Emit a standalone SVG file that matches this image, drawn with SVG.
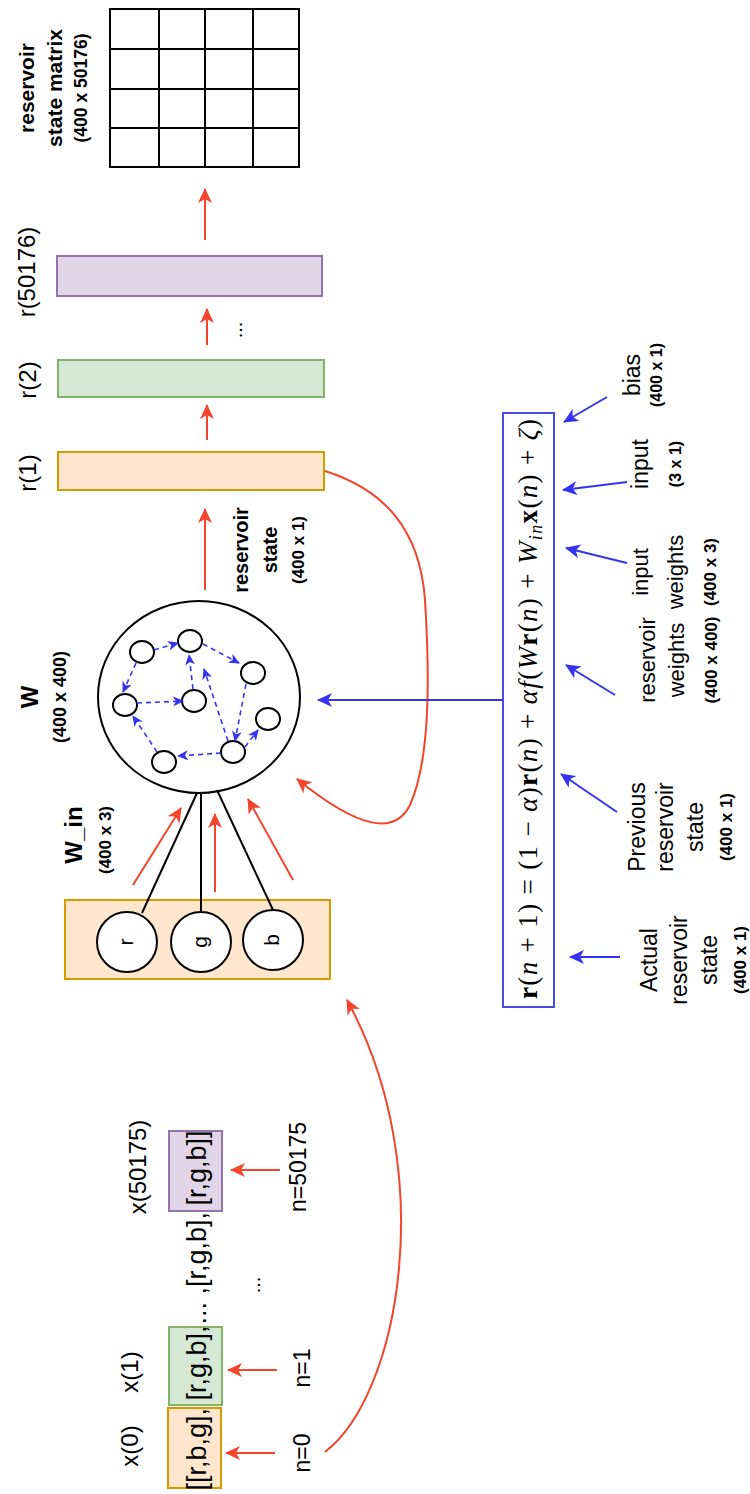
<svg xmlns="http://www.w3.org/2000/svg" width="750" height="1494" viewBox="0 0 750 1494">
<style>
.t{font-family:"Liberation Sans",Arial,sans-serif;fill:#000}
.b{font-weight:bold}
.red{stroke:#f2452b;stroke-width:2;fill:none}
.blue{stroke:#3434f0;stroke-width:2;fill:none}
.dash{stroke:#3434f0;stroke-width:1.6;stroke-dasharray:5 4;fill:none}
.blk{stroke:#000;stroke-width:2;fill:none}
.org{fill:#ffe6cc;stroke:#d79b00;stroke-width:2}
.grn{fill:#d5e8d4;stroke:#82b366;stroke-width:2}
.pur{fill:#e1d5e7;stroke:#9673a6;stroke-width:2}
.nd{fill:#fff;stroke:#000;stroke-width:2}
</style>
<defs>
<marker id="ar" markerUnits="userSpaceOnUse" viewBox="0 0 15 14" refX="14" refY="7" markerWidth="15" markerHeight="14" orient="auto"><path d="M0,0 L15,7 L0,14 L4,7 z" fill="#f2452b"/></marker>
<marker id="ab" markerUnits="userSpaceOnUse" viewBox="0 0 15 14" refX="14" refY="7" markerWidth="15" markerHeight="14" orient="auto"><path d="M0,0 L15,7 L0,14 L4,7 z" fill="#3434f0"/></marker>
<marker id="as" markerUnits="userSpaceOnUse" viewBox="0 0 11 10" refX="10" refY="5" markerWidth="11" markerHeight="10" orient="auto"><path d="M0,0 L11,5 L0,10 L3,5 z" fill="#3434f0"/></marker>
</defs>
<rect width="750" height="1494" fill="#fff"/>

<g id="state-matrix">
<rect x="110" y="9" width="189" height="158" class="blk"/>
<path d="M159,9 V167 M205,9 V167 M253,9 V167 M110,49 H299 M110,89 H299 M110,128 H299" class="blk"/>
<text class="t b" transform="translate(34,88) rotate(-90)" text-anchor="middle" font-size="21"><tspan x="0" y="0">reservoir</tspan><tspan x="0" y="28">state matrix</tspan><tspan x="0" y="53" font-size="17.5">(400 x 50176)</tspan></text>
</g>

<g id="r50176">
<rect x="57" y="256" width="265" height="40" class="pur"/>
<text class="t" transform="translate(35,272) rotate(-90)" text-anchor="middle" font-size="24">r(50176)</text>
</g>
<g id="r2">
<rect x="58" y="360" width="266" height="37" class="grn"/>
<text class="t" transform="translate(36,380) rotate(-90)" text-anchor="middle" font-size="24">r(2)</text>
</g>
<g id="r1">
<rect x="58" y="452" width="266" height="38" class="org"/>
<text class="t" transform="translate(36,473) rotate(-90)" text-anchor="middle" font-size="24">r(1)</text>
</g>
<text class="t" transform="translate(242,330) rotate(-90)" text-anchor="middle" font-size="20">...</text>
<text class="t b" transform="translate(248,550) rotate(-90)" text-anchor="middle" font-size="20"><tspan x="0" y="0">reservoir</tspan><tspan x="0" y="29">state</tspan><tspan x="0" y="56" font-size="17">(400 x 1)</tspan></text>

<g id="reservoir-W">
<ellipse cx="199" cy="697" rx="101" ry="96" fill="#fff" stroke="#000" stroke-width="2"/>
<ellipse cx="142" cy="652" rx="12" ry="11" class="nd"/>
<ellipse cx="190" cy="641" rx="12" ry="11" class="nd"/>
<ellipse cx="253" cy="673" rx="12" ry="11" class="nd"/>
<ellipse cx="125" cy="705" rx="12" ry="11" class="nd"/>
<ellipse cx="194" cy="701" rx="12" ry="11" class="nd"/>
<ellipse cx="268" cy="719" rx="12" ry="11" class="nd"/>
<ellipse cx="233" cy="752" rx="12" ry="11" class="nd"/>
<ellipse cx="164" cy="762" rx="12" ry="11" class="nd"/>
<g marker-end="url(#as)">
<path d="M154,650 L178,643" class="dash"/>
<path d="M203,644 L239,663" class="dash"/>
<path d="M136,663 L123,692" class="dash"/>
<path d="M137,703 L183,701" class="dash"/>
<path d="M193,689 L189,655" class="dash"/>
<path d="M228,741 L204,669" class="dash"/>
<path d="M246,684 L235,741" class="dash"/>
<path d="M245,747 L258,730" class="dash"/>
<path d="M221,753 L178,756" class="dash"/>
<path d="M157,752 L133,716" class="dash"/>
</g>
<text class="t b" transform="translate(38,697) rotate(-90)" text-anchor="middle" font-size="24">W</text>
<text class="t b" transform="translate(66,697) rotate(-90)" text-anchor="middle" font-size="18">(400 x 400)</text>
</g>

<g id="input-rgb">
<rect x="65" y="900" width="265" height="79" class="org"/>
<path d="M197,793 L142,913 M201,793 L201,912 M217,790 L273,910" class="blk"/>
<circle cx="127" cy="942" r="30" class="nd"/>
<circle cx="201" cy="942" r="30" class="nd"/>
<circle cx="273" cy="940" r="30" class="nd"/>
<text class="t" transform="translate(133,942) rotate(-90)" text-anchor="middle" font-size="21">r</text>
<text class="t" transform="translate(207,942) rotate(-90)" text-anchor="middle" font-size="21">g</text>
<text class="t" transform="translate(279,940) rotate(-90)" text-anchor="middle" font-size="21">b</text>
<text class="t b" transform="translate(82,835) rotate(-90)" text-anchor="middle" font-size="24">W_in</text>
<text class="t b" transform="translate(111,840) rotate(-90)" text-anchor="middle" font-size="17">(400 x 3)</text>
</g>

<g id="equation">
<rect x="503" y="413" width="51" height="594" fill="#fff" stroke="#4a4ae6" stroke-width="2"/>
<text transform="translate(537,709) rotate(-90)" text-anchor="middle" font-family="Liberation Serif,serif" font-size="27" textLength="580" lengthAdjust="spacing"><tspan font-weight="bold">r</tspan>(<tspan font-style="italic">n</tspan> + 1) = (1 − <tspan font-style="italic">α</tspan>)<tspan font-weight="bold">r</tspan>(<tspan font-style="italic">n</tspan>) + <tspan font-style="italic">αf</tspan>(<tspan font-style="italic">W</tspan><tspan font-weight="bold">r</tspan>(<tspan font-style="italic">n</tspan>) + <tspan font-style="italic">W</tspan><tspan font-style="italic" font-size="18" dy="5">in</tspan><tspan font-weight="bold" dy="-5">x</tspan>(<tspan font-style="italic">n</tspan>) + <tspan font-style="italic">ζ</tspan>)</text>
</g>

<g id="label-bias"><text class="t" transform="translate(640,375) rotate(-90)" text-anchor="middle" font-size="23"><tspan x="0" y="0">bias</tspan><tspan x="0" y="22" font-size="16" font-weight="bold">(400 x 1)</tspan></text></g>
<g id="label-input"><text class="t" transform="translate(648,464) rotate(-90)" text-anchor="middle" font-size="23"><tspan x="0" y="0">input</tspan><tspan x="0" y="33" font-size="16" font-weight="bold">(3 x 1)</tspan></text></g>
<g id="label-input-weights"><text class="t" transform="translate(648,572) rotate(-90)" text-anchor="middle" font-size="22"><tspan x="0" y="0">input</tspan><tspan x="0" y="35">weights</tspan><tspan x="0" y="68" font-size="17" font-weight="bold">(400 x 3)</tspan></text></g>
<g id="label-reservoir-weights"><text class="t" transform="translate(655,660) rotate(-90)" text-anchor="middle" font-size="22"><tspan x="0" y="0">reservoir</tspan><tspan x="0" y="29">weights</tspan><tspan x="0" y="62" font-size="17" font-weight="bold">(400 x 400)</tspan></text></g>
<g id="label-previous"><text class="t" transform="translate(645,827) rotate(-90)" text-anchor="middle" font-size="23"><tspan x="0" y="0">Previous</tspan><tspan x="0" y="28">reservoir</tspan><tspan x="0" y="58">state</tspan><tspan x="0" y="87" font-size="17" font-weight="bold">(400 x 1)</tspan></text></g>
<g id="label-actual"><text class="t" transform="translate(657,960) rotate(-90)" text-anchor="middle" font-size="23"><tspan x="0" y="0">Actual</tspan><tspan x="0" y="30">reservoir</tspan><tspan x="0" y="60">state</tspan><tspan x="0" y="89" font-size="17" font-weight="bold">(400 x 1)</tspan></text></g>

<g id="sequence">
<rect x="168" y="1408" width="53" height="80" class="org"/>
<rect x="169" y="1327" width="53" height="78" class="grn"/>
<rect x="169" y="1131" width="53" height="80" class="pur"/>
<text class="t" transform="translate(206,1490.5) rotate(-90)" font-size="27">[[r,b,g],</text>
<text class="t" transform="translate(206,1400.5) rotate(-90)" font-size="27">[r,g,b],</text>
<text class="t" transform="translate(206,1212) rotate(-90)" text-anchor="end" font-size="27">... ,[r,g,b],</text>
<text class="t" transform="translate(206,1205.5) rotate(-90)" font-size="27">[r,g,b]]</text>
<text class="t" transform="translate(138,1446) rotate(-90)" text-anchor="middle" font-size="24">x(0)</text>
<text class="t" transform="translate(138,1372) rotate(-90)" text-anchor="middle" font-size="24">x(1)</text>
<text class="t" transform="translate(146,1167) rotate(-90)" text-anchor="middle" font-size="24">x(50175)</text>
<text class="t" transform="translate(310,1453) rotate(-90)" text-anchor="middle" font-size="23">n=0</text>
<text class="t" transform="translate(310,1368) rotate(-90)" text-anchor="middle" font-size="23">n=1</text>
<text class="t" transform="translate(306,1167) rotate(-90)" text-anchor="middle" font-size="23">n=50175</text>
<text class="t" transform="translate(260,1285) rotate(-90)" text-anchor="middle" font-size="20">...</text>
</g>

<g id="connectors">
<g class="red" marker-end="url(#ar)">
<path d="M205,240 V189"/>
<path d="M207,345 V309"/>
<path d="M207,440 V405"/>
<path d="M205,590 V509"/>
<path d="M133,885 L181,808"/>
<path d="M215,892 V814"/>
<path d="M293,880 L248,799"/>
<path d="M325,471 C385,490 420,530 425,600 C430,680 430,760 410,805 C395,835 360,830 297,779"/>
<path d="M275,1453 H226"/>
<path d="M277,1370 H228"/>
<path d="M280,1170 H231"/>
<path d="M325,1452 C400,1395 440,1170 347,1000"/>
</g>
<g class="blue" marker-end="url(#ab)">
<path d="M503,700 H318"/>
<path d="M607,397 L564,422"/>
<path d="M627,482 L563,490"/>
<path d="M627,563 L566,548"/>
<path d="M615,695 L566,665"/>
<path d="M617,812 L561,774"/>
<path d="M620,957 H570"/>
</g>
</g>
</svg>
